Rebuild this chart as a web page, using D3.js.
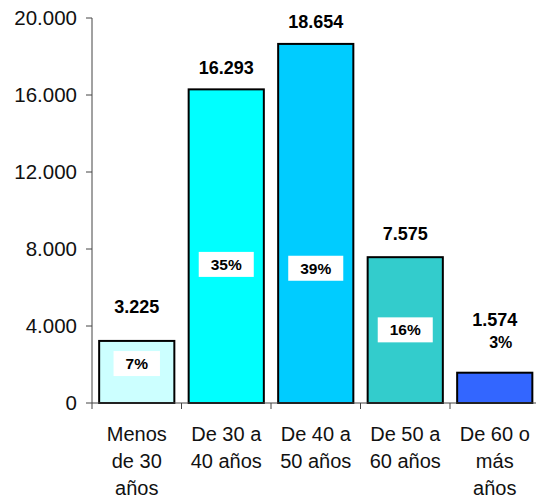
<!DOCTYPE html>
<html>
  <meta charset="utf-8" />
  <style>
    body { margin: 0; background: #fff; }
    text { font-family: Arial, "Liberation Sans", sans-serif; }
  </style>
  <svg width="536" height="500"></svg>
  <script src="https://d3js.org/d3.v7.min.js"></script>
  <script>
    // data
    const categories = [
      ["Menos", "de 30", "años"],
      ["De 30 a", "40 años"],
      ["De 40 a", "50 años"],
      ["De 50 a", "60 años"],
      ["De 60 o", "más", "años"],
    ];
    const values = [3225, 16293, 18654, 7575, 1574];
    const percents = ["7%", "35%", "39%", "16%", "3%"];
    const yTicks = [0, 4000, 8000, 12000, 16000, 20000];
    const colors = ["#ccffff", "#00ffff", "#00ccff", "#33cccc", "#3366ff"];

    // label layout (Excel put them in odd places)
    const valueLift = [28, 15, 16, 17, 47];
    const pctAt = [2050, 7200, 7000, 3800, null];

    var svg = d3.select("svg");

    var y = d3.scaleLinear().domain([0, 20000]).range([403, 18]);
    var x = d3
      .scaleBand()
      .domain(d3.range(values.length))
      .range([92, 539.5])
      .paddingInner(0.16)
      .paddingOuter(0.08);

    const fmt = (v) => d3.format(",")(v).replace(/,/g, ".");

    // y axis
    var yAxis = svg.append("g").attr("transform", "translate(92,0)");
    yAxis
      .append("line")
      .attr("y1", y(20000))
      .attr("y2", y(0))
      .attr("stroke", "#444");
    yAxis
      .selectAll(".tick")
      .data(yTicks)
      .join("g")
      .attr("transform", (d) => `translate(0,${y(d)})`)
      .each(function (d) {
        var g = d3.select(this);
        g.append("line").attr("x1", -6).attr("x2", 0).attr("stroke", "#444");
        g.append("text")
          .attr("x", -15)
          .attr("dy", "0.36em")
          .attr("text-anchor", "end")
          .attr("font-size", 20.5)
          .attr("fill", "#111")
          .text(fmt(d));
      });

    // bars
    svg
      .append("g")
      .selectAll("rect")
      .data(values)
      .join("rect")
      .attr("x", (d, i) => x(i))
      .attr("y", (d) => y(d))
      .attr("width", x.bandwidth())
      .attr("height", (d) => y(0) - y(d))
      .attr("fill", (d, i) => colors[i])
      .attr("stroke", "#000")
      .attr("stroke-width", 2);

    // x axis
    var xAxis = svg.append("g");
    xAxis
      .append("line")
      .attr("x1", 92)
      .attr("x2", 536)
      .attr("y1", y(0))
      .attr("y2", y(0))
      .attr("stroke", "#444");
    xAxis
      .selectAll(".tk")
      .data(d3.range(values.length))
      .join("line")
      .attr("x1", (i) => x(i) - (x.step() * 0.16) / 2)
      .attr("x2", (i) => x(i) - (x.step() * 0.16) / 2)
      .attr("y1", y(0))
      .attr("y2", y(0) + 6)
      .attr("stroke", "#444");

    // category labels
    svg
      .append("g")
      .selectAll("text")
      .data(categories)
      .join("text")
      .attr("x", (d, i) => x(i) + x.bandwidth() / 2)
      .attr("y", 441)
      .attr("text-anchor", "middle")
      .attr("font-size", 20)
      .attr("fill", "#111")
      .each(function (lines, i) {
        d3.select(this)
          .selectAll("tspan")
          .data(lines)
          .join("tspan")
          .attr("x", x(i) + x.bandwidth() / 2)
          .attr("dy", (l, j) => (j === 0 ? 0 : 27))
          .text((l) => l);
      });

    // value labels
    svg
      .append("g")
      .selectAll("text")
      .data(values)
      .join("text")
      .attr("x", (d, i) => x(i) + x.bandwidth() / 2)
      .attr("y", (d, i) => y(d) - valueLift[i])
      .attr("text-anchor", "middle")
      .attr("font-size", 18)
      .attr("font-weight", "bold")
      .text((d) => fmt(d));

    // percent labels in white boxes
    var pg = svg.append("g");
    percents.forEach((p, i) => {
      var cx = x(i) + x.bandwidth() / 2;
      if (pctAt[i] == null) {
        pg.append("text")
          .attr("x", cx + 6)
          .attr("y", y(values[i]) - 25)
          .attr("text-anchor", "middle")
          .attr("font-size", 16)
          .attr("font-weight", "bold")
          .text(p);
        return;
      }
      var cy = y(pctAt[i]);
      var t = pg
        .append("text")
        .attr("x", cx)
        .attr("y", cy)
        .attr("dy", "0.36em")
        .attr("text-anchor", "middle")
        .attr("font-size", 15.5)
        .attr("font-weight", "bold")
        .text(p);
      var w = t.node().getComputedTextLength() + 24;
      pg.insert("rect", "text")
        .attr("x", cx - w / 2)
        .attr("y", cy - 12.5)
        .attr("width", w)
        .attr("height", 25)
        .attr("fill", "#fff");
    });
  </script>
</html>
